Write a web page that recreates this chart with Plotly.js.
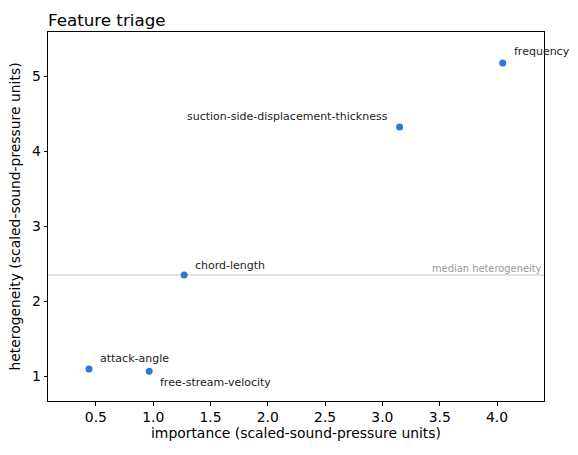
<!DOCTYPE html>
<html>
<head>
<meta charset="utf-8">
<script src="https://cdn.plot.ly/plotly-3.0.1.min.js"></script>
<style>html,body{margin:0;padding:0;background:#fff;}#chart{width:578px;height:455px;}</style>
</head>
<body>
<div id="chart"></div>
<script>
const features = ["frequency", "suction-side-displacement-thickness", "chord-length", "attack-angle", "free-stream-velocity"];
const importance = [4.05, 3.15, 1.27, 0.44, 0.965];
const heterogeneity = [5.175, 4.32, 2.347, 1.093, 1.065];
const xTickVals = [0.5, 1.0, 1.5, 2.0, 2.5, 3.0, 3.5, 4.0];
const xTickText = ["0.5", "1.0", "1.5", "2.0", "2.5", "3.0", "3.5", "4.0"];
const yTickVals = [1, 2, 3, 4, 5];
const yTickText = ["1", "2", "3", "4", "5"];

const sorted = heterogeneity.slice().sort((a, b) => a - b);
const median = sorted.length % 2 ? sorted[(sorted.length - 1) / 2]
  : (sorted[sorted.length / 2 - 1] + sorted[sorted.length / 2]) / 2;

// label placement per point: [xanchor, xshift, yshift]
const place = {
  "frequency": ["left", 9, 11],
  "suction-side-displacement-thickness": ["right", -10, 11],
  "chord-length": ["left", 9, 10],
  "attack-angle": ["left", 9, 11],
  "free-stream-velocity": ["left", 9, -11]
};

const font = "DejaVu Sans, sans-serif";
const annotations = features.map((f, i) => ({
  x: importance[i], y: heterogeneity[i], xref: "x", yref: "y",
  text: f, showarrow: false,
  xanchor: place[f][0], yanchor: "middle",
  xshift: place[f][1], yshift: place[f][2],
  font: {family: font, size: 11, color: "#222"}
}));
annotations.push({
  x: 1, xref: "paper", y: median, yref: "y",
  text: "median heterogeneity", showarrow: false,
  xanchor: "right", yanchor: "bottom", xshift: 0, yshift: -1,
  font: {family: font, size: 9.9, color: "#999"}
});

const trace = {
  x: importance, y: heterogeneity, type: "scatter", mode: "markers",
  marker: {color: "#2a78d8", size: 7},
  hoverinfo: "skip"
};

const layout = {
  width: 578, height: 455,
  margin: {l: 48, r: 34, t: 32, b: 54},
  paper_bgcolor: "#fff", plot_bgcolor: "#fff",
  showlegend: false,
  font: {family: font, size: 13.9, color: "#000"},
  title: {
    text: "Feature triage", x: 0, xref: "paper", xanchor: "left",
    y: 1, yref: "paper", yanchor: "bottom", pad: {b: 6, l: 0},
    font: {family: font, size: 16.7, color: "#000"}
  },
  xaxis: {
    range: [0.082, 4.41], tickmode: "array", tickvals: xTickVals, ticktext: xTickText,
    showgrid: false, zeroline: false, showline: true, mirror: true,
    linecolor: "#000", linewidth: 1, ticks: "outside", ticklen: 3.5, tickcolor: "#000",
    tickfont: {family: font, size: 13.9, color: "#000"},
    title: {text: "importance (scaled-sound-pressure units)", standoff: 4,
      font: {family: font, size: 13.9, color: "#000"}}
  },
  yaxis: {
    range: [0.667, 5.587], tickmode: "array", tickvals: yTickVals, ticktext: yTickText,
    showgrid: false, zeroline: false, showline: true, mirror: true,
    linecolor: "#000", linewidth: 1, ticks: "outside", ticklen: 3.5, tickcolor: "#000",
    tickfont: {family: font, size: 13.9, color: "#000"},
    title: {text: "heterogeneity (scaled-sound-pressure units)", standoff: 8,
      font: {family: font, size: 13.9, color: "#000"}}
  },
  shapes: [{
    type: "line", xref: "paper", x0: 0, x1: 1, yref: "y", y0: median, y1: median,
    line: {color: "#c4c4bc", width: 1}, layer: "below"
  }],
  annotations: annotations
};

Plotly.newPlot("chart", [trace], layout, {staticPlot: true, displayModeBar: false});
</script>
</body>
</html>
